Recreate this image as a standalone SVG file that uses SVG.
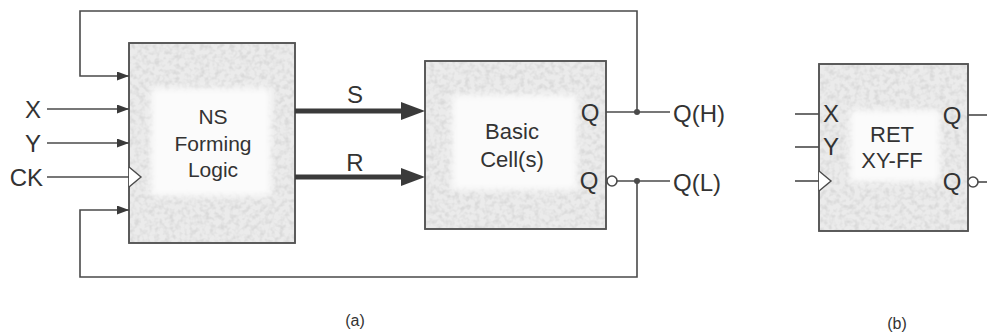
<svg xmlns="http://www.w3.org/2000/svg" width="987" height="334" viewBox="0 0 987 334">
<style>
.t{font-family:"Liberation Sans",Arial,sans-serif;fill:#333;}
.lbl{font-size:24px;}
.in{font-size:21px;}
.in2{font-size:22px;}
.cap{font-size:16px;}
.w{fill:none;stroke:#4a4a4a;stroke-width:1.6;}
.thick{fill:none;stroke:#3a3a3a;stroke-width:5;}
.box{fill:#ebebeb;stroke:#555;stroke-width:1.6;}
.inner{fill:#fbfbfb;}
.dot{fill:#4a4a4a;}
.bub{fill:#fff;stroke:#4a4a4a;stroke-width:1.6;}
.clk{fill:#fff;stroke:#4a4a4a;stroke-width:1.4;}
</style>
<defs>
<marker id="ah" markerUnits="userSpaceOnUse" markerWidth="12" markerHeight="9" refX="12" refY="4.5" orient="auto"><path d="M0,0 L12,4.5 L0,9 z" fill="#3a3a3a"/></marker>
<marker id="ahb" markerUnits="userSpaceOnUse" markerWidth="25" markerHeight="18" refX="4" refY="9" orient="auto"><path d="M0,0 L24,9 L0,18 z" fill="#3a3a3a"/></marker>
<filter id="tex" x="0" y="0" width="1" height="1" filterUnits="objectBoundingBox"><feTurbulence type="fractalNoise" baseFrequency="0.2" numOctaves="2" seed="5" result="n"/><feColorMatrix in="n" type="matrix" values="0 0 0 0 0.7  0 0 0 0 0.7  0 0 0 0 0.7  2.6 0 0 0 -1.05"/></filter>
<filter id="soft" x="-20%" y="-20%" width="140%" height="140%"><feGaussianBlur stdDeviation="3"/></filter>
</defs>
<rect width="987" height="334" fill="#fff"/>

<g id="node-ns">
<rect class="box" x="129" y="43" width="166" height="200"/>
<rect x="130" y="44" width="164" height="198" fill="#000" filter="url(#tex)"/>
<rect class="inner" x="151" y="88" width="120" height="108" filter="url(#soft)"/>
<rect x="129" y="43" width="166" height="200" fill="none" stroke="#555" stroke-width="1.6"/>
<polyline class="clk" points="129,167 141,177 129,187"/>
<text class="t in" x="213" y="124" text-anchor="middle">NS</text>
<text class="t in" x="213" y="151" text-anchor="middle">Forming</text>
<text class="t in" x="213" y="177" text-anchor="middle">Logic</text>
</g>

<g id="node-basic">
<rect class="box" x="425" y="61" width="181" height="168"/>
<rect x="426" y="62" width="179" height="166" fill="#000" filter="url(#tex)"/>
<rect class="inner" x="452" y="95" width="125" height="95" filter="url(#soft)"/>
<rect x="425" y="61" width="181" height="168" fill="none" stroke="#555" stroke-width="1.6"/>
<text class="t in2" x="512" y="139" text-anchor="middle">Basic</text>
<text class="t in2" x="512" y="167" text-anchor="middle">Cell(s)</text>
<text class="t lbl" x="590" y="121" text-anchor="middle">Q</text>
<text class="t lbl" x="589" y="189" text-anchor="middle">Q</text>
</g>

<g id="node-ff">
<rect class="box" x="819" y="64" width="149" height="167"/>
<rect x="820" y="65" width="147" height="165" fill="#000" filter="url(#tex)"/>
<rect class="inner" x="850" y="110" width="90" height="72" filter="url(#soft)"/>
<rect x="819" y="64" width="149" height="167" fill="none" stroke="#555" stroke-width="1.6"/>
<polyline class="clk" points="819,171 831,181 819,191"/>
<text class="t lbl" x="831" y="122" text-anchor="middle">X</text>
<text class="t lbl" x="831" y="155" text-anchor="middle">Y</text>
<text class="t in2" x="892" y="142" text-anchor="middle">RET</text>
<text class="t in2" x="892" y="168" text-anchor="middle">XY-FF</text>
<text class="t lbl" x="952" y="124" text-anchor="middle">Q</text>
<text class="t lbl" x="952" y="190" text-anchor="middle">Q</text>
</g>

<g id="connectors">
<line class="w" x1="47" y1="109" x2="129" y2="109" marker-end="url(#ah)"/>
<line class="w" x1="47" y1="143" x2="129" y2="143" marker-end="url(#ah)"/>
<line class="w" x1="47" y1="177" x2="129" y2="177"/>
<path class="w" d="M637,112 V11 H80 V76 H129" marker-end="url(#ah)"/>
<path class="w" d="M637,181 V277 H80 V210 H129" marker-end="url(#ah)"/>
<line class="thick" x1="295" y1="111" x2="405" y2="111" marker-end="url(#ahb)"/>
<line class="thick" x1="295" y1="177" x2="405" y2="177" marker-end="url(#ahb)"/>
<line class="w" x1="606" y1="112" x2="670" y2="112"/>
<circle class="bub" cx="612" cy="181" r="5"/>
<line class="w" x1="617" y1="181" x2="670" y2="181"/>
<circle class="dot" cx="637" cy="112" r="3"/>
<circle class="dot" cx="637" cy="181" r="3"/>
<line class="w" x1="795" y1="114" x2="819" y2="114"/>
<line class="w" x1="795" y1="147" x2="819" y2="147"/>
<line class="w" x1="795" y1="181" x2="819" y2="181"/>
<line class="w" x1="968" y1="115" x2="987" y2="115"/>
<circle class="bub" cx="973" cy="182" r="5"/>
<line class="w" x1="978" y1="182" x2="987" y2="182"/>
</g>

<g id="labels">
<text class="t lbl" x="33" y="118" text-anchor="middle">X</text>
<text class="t lbl" x="33" y="152" text-anchor="middle">Y</text>
<text class="t lbl" x="43" y="186" text-anchor="end">CK</text>
<text class="t lbl" x="355" y="103" text-anchor="middle">S</text>
<text class="t lbl" x="355" y="171" text-anchor="middle">R</text>
<text class="t lbl" x="673" y="122">Q(H)</text>
<text class="t lbl" x="673" y="191">Q(L)</text>
<text class="t cap" x="355" y="326" text-anchor="middle">(a)</text>
<text class="t cap" x="897" y="329" text-anchor="middle">(b)</text>
</g>
</svg>
